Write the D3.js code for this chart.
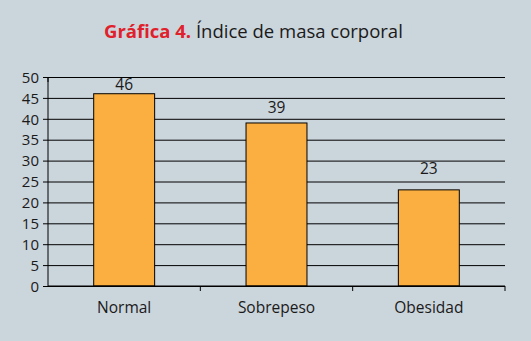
<!DOCTYPE html>
<html>
<head>
<meta charset="utf-8">
<script src="https://cdn.jsdelivr.net/npm/d3@7"></script>
<style>
  body { margin: 0; background: #cbd5dc; }
  svg { display: block; font-family: "Open Sans", "Noto Sans", sans-serif; }
</style>
</head>
<body>
<div id="chart"></div>
<script>
// data
let categories = ["Normal", "Sobrepeso", "Obesidad"];
let values = [46, 39, 23];
let yTicks = [0, 5, 10, 15, 20, 25, 30, 35, 40, 45, 50];

// gap between bar top and its value label (px), as placed in the original
let labelGaps = [4, 10, 16];

var W = 531, H = 341;
var margin = {top: 77, right: 26, bottom: 55, left: 48},
    width = W - margin.left - margin.right,
    height = H - margin.top - margin.bottom;

var svg = d3.select("#chart")
    .append("svg")
    .attr("width", W)
    .attr("height", H);

svg.append("rect").attr("width", W).attr("height", H).attr("fill", "#cbd5dc");

// title
var title = svg.append("text")
    .attr("x", 104)
    .attr("y", 38)
    .attr("text-anchor", "start")
    .style("font-size", "18.5px");
title.append("tspan").attr("fill", "#e0202b").attr("font-weight", "bold").text("Gráfica 4.");
title.append("tspan").attr("fill", "#1a1a1a").text(" Índice de masa corporal");

var g = svg.append("g")
    .attr("transform", `translate(${margin.left},${margin.top})`);

var x = d3.scaleBand()
    .domain(categories)
    .range([0, width])
    .padding(0);

var y = d3.scaleLinear()
    .domain([0, 50])
    .range([height, 0]);

// grid lines + y axis
g.append("g")
    .call(d3.axisLeft(y).tickValues(yTicks).tickSize(0))
    .call(g => g.select(".domain").remove())
    .call(g => g.selectAll(".tick line").attr("stroke", "#000").attr("x1", -5).attr("x2", width))
    .call(g => g.selectAll(".tick text").attr("fill", "#1a1a1a").style("font-size", "15px").attr("x", -9).attr("dy", "0.35em"))
    .style("font-family", "inherit");

// y axis line
g.append("line")
    .attr("x1", 0).attr("x2", 0)
    .attr("y1", 0).attr("y2", height)
    .attr("stroke", "#000");

// bars
var bw = x.bandwidth() * 0.4;
g.selectAll("rect.bar")
    .data(values)
    .join("rect")
    .attr("class", "bar")
    .attr("x", (d, i) => x(categories[i]) + (x.bandwidth() - bw) / 2)
    .attr("y", d => y(d))
    .attr("width", bw)
    .attr("height", d => height - y(d))
    .attr("fill", "#fbaf41")
    .attr("stroke", "#000")
    .attr("stroke-width", 1);

// value labels
g.selectAll("text.val")
    .data(values)
    .join("text")
    .attr("class", "val")
    .attr("x", (d, i) => x(categories[i]) + x.bandwidth() / 2)
    .attr("y", (d, i) => y(d) - labelGaps[i])
    .attr("text-anchor", "middle")
    .attr("fill", "#1a1a1a")
    .style("font-size", "15.5px")
    .text(d => d);

// x axis
g.append("g")
    .attr("transform", `translate(0,${height})`)
    .call(d3.axisBottom(x).tickSize(0).tickPadding(16))
    .call(g => g.select(".domain").attr("stroke", "#000").attr("d", `M0,0H${width}`))
    .call(g => g.selectAll(".tick text").attr("fill", "#1a1a1a").style("font-size", "15.5px"))
    .style("font-family", "inherit");

// x tick marks at band edges
g.append("g")
    .attr("transform", `translate(0,${height})`)
    .selectAll("line")
    .data(categories)
    .join("line")
    .attr("x1", d => x(d) + x.bandwidth())
    .attr("x2", d => x(d) + x.bandwidth())
    .attr("y1", 0).attr("y2", 5)
    .attr("stroke", "#000");
g.append("line")
    .attr("x1", 0).attr("x2", 0).attr("y1", 0).attr("y2", 5).attr("stroke", "#000");
</script>
</body>
</html>
